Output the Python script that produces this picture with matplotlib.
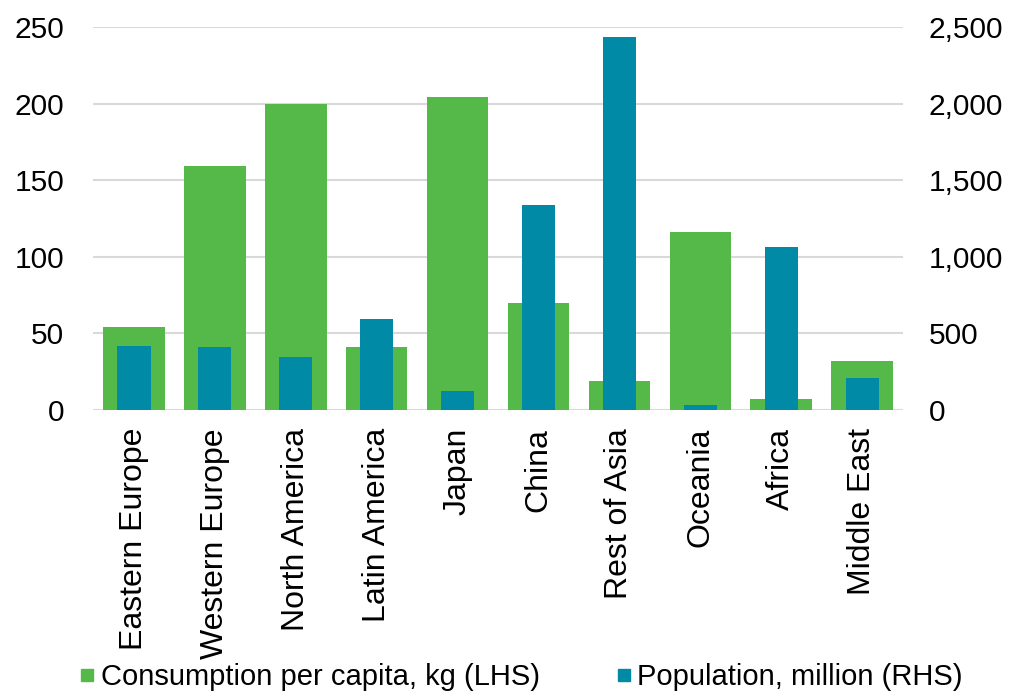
import matplotlib.pyplot as plt
from matplotlib.lines import Line2D
from matplotlib.ticker import FuncFormatter

plt.rcParams['font.family'] = ['Liberation Sans', 'DejaVu Sans']

# données
regions = ["Eastern Europe", "Western Europe", "North America", "Latin America",
           "Japan", "China", "Rest of Asia", "Oceania", "Africa", "Middle East"]
consumption = [54, 159, 200, 41, 204, 70, 19, 116, 7, 32]          # kg par habitant (LHS)
population = [417, 409, 344, 594, 122, 1338, 2435, 33, 1064, 209]  # millions (RHS)

green = "#54B948"
blue = "#008AA6"

fig = plt.figure(figsize=(10.13, 6.98), dpi=100)
ax = fig.add_axes([0.0923, 0.4126, 0.7987, 0.5487])
ax2 = ax.twinx()

x = range(len(regions))
ax.bar(x, consumption, width=0.76, color=green, zorder=2)
ax2.bar(x, population, width=0.41, color=blue, zorder=2)

ax.set_xlim(-0.5, len(regions) - 0.5)
ax.set_ylim(0, 250)
ax.set_yticks(range(0, 251, 50))
ax2.set_ylim(0, 2500)
ax2.set_yticks(range(0, 2501, 500))
ax2.yaxis.set_major_formatter(FuncFormatter(lambda v, p: f"{int(v):,}"))

ax.grid(axis="y", color="#d9d9d9", linewidth=1.5, zorder=0)
ax.set_axisbelow(True)
for a in (ax, ax2):
    for s in a.spines.values():
        s.set_visible(False)

ax.set_xticks(list(x))
ax.set_xticklabels(regions, rotation=90)
ax.tick_params(axis="x", length=0, pad=13, labelsize=23)
ax.tick_params(axis="y", length=0, pad=21, labelsize=21.5)
ax2.tick_params(axis="y", length=0, pad=19, labelsize=21.5)

handles = [
    Line2D([], [], marker="s", linestyle="none", color=green, markersize=9),
    Line2D([], [], marker="s", linestyle="none", color=blue, markersize=9),
]
fig.legend(handles, ["Consumption per capita, kg (LHS)", "Population, million (RHS)"],
           loc="lower center", bbox_to_anchor=(0.514, -0.028), ncol=2, frameon=False,
           fontsize=21, handlelength=0.6, handletextpad=0.15, columnspacing=2.6)

fig.savefig("out.png", dpi=100)
